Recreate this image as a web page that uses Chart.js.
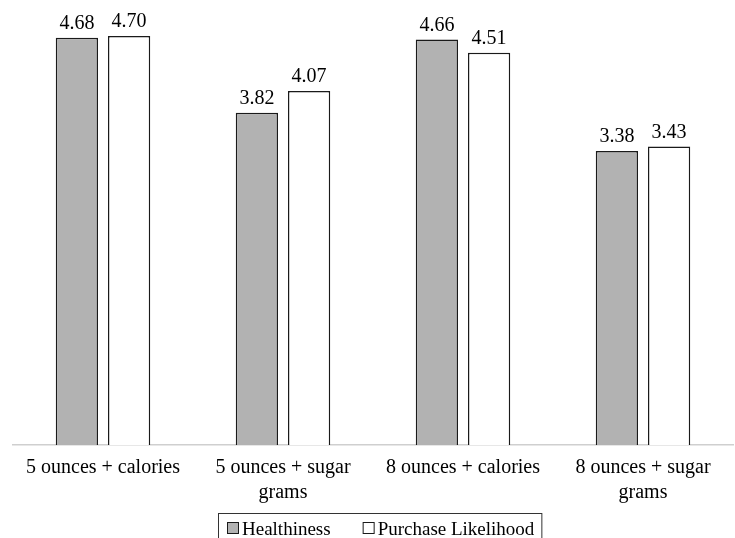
<!DOCTYPE html>
<html>
<head>
<meta charset="utf-8">
<script src="https://cdn.jsdelivr.net/npm/chart.js@4.4.0/dist/chart.umd.min.js"></script>
<style>
  html, body { margin: 0; padding: 0; background: #fff; }
  canvas { display: block; }
</style>
</head>
<body>
<canvas id="chart" width="735" height="538"></canvas>
<script>
const categories = [
    '5 ounces + calories',
    ['5 ounces + sugar', 'grams'],
    '8 ounces + calories',
    ['8 ounces + sugar', 'grams']
];
const healthiness = [4.68, 3.82, 4.66, 3.38];
const purchaseLikelihood = [4.70, 4.07, 4.51, 3.43];

const serif = "'Liberation Serif', 'Times New Roman', serif";

// value labels above each bar
const valueLabels = {
    id: 'valueLabels',
    afterDatasetsDraw(chart) {
        const ctx = chart.ctx;
        ctx.save();
        ctx.font = '20px ' + serif;
        ctx.fillStyle = '#000';
        ctx.textAlign = 'center';
        ctx.textBaseline = 'alphabetic';
        chart.data.datasets.forEach((ds, i) => {
            chart.getDatasetMeta(i).data.forEach((bar, j) => {
                ctx.fillText(ds.data[j].toFixed(2), bar.x, bar.y - 9);
            });
        });
        ctx.restore();
    }
};

// boxed legend at the bottom, drawn from the datasets
const boxLegend = {
    id: 'boxLegend',
    afterDraw(chart) {
        const ctx = chart.ctx;
        const sets = chart.data.datasets;
        ctx.save();
        ctx.font = '19px ' + serif;
        ctx.textBaseline = 'alphabetic';
        const box = 12, gap = 3, itemGap = 32;
        let total = 0;
        sets.forEach((ds, i) => {
            total += box + gap + ctx.measureText(ds.label).width + (i ? itemGap : 0);
        });
        const frameLeft = 218, pad = 9;
        let x = frameLeft + pad;
        const base = 535;
        ctx.strokeStyle = '#333';
        ctx.lineWidth = 1;
        ctx.strokeRect(frameLeft + 0.5, 513.5, total + pad * 2 - 2, 40);
        sets.forEach((ds) => {
            ctx.fillStyle = ds.backgroundColor;
            ctx.fillRect(x, base - 13, box, box);
            ctx.strokeStyle = '#1a1a1a';
            ctx.strokeRect(x + 0.5, base - 12.5, box - 1, box - 1);
            x += box + gap;
            ctx.fillStyle = '#000';
            ctx.fillText(ds.label, x, base);
            x += ctx.measureText(ds.label).width + itemGap;
        });
        ctx.restore();
    }
};

new Chart(document.getElementById('chart'), {
    type: 'bar',
    data: {
        labels: categories,
        datasets: [
            {
                label: 'Healthiness',
                data: healthiness,
                backgroundColor: '#b2b2b2',
                borderColor: '#1a1a1a',
                borderWidth: 1.5
            },
            {
                label: 'Purchase Likelihood',
                data: purchaseLikelihood,
                backgroundColor: '#ffffff',
                borderColor: '#1a1a1a',
                borderWidth: 1.5
            }
        ]
    },
    options: {
        responsive: false,
        animation: false,
        layout: { padding: { left: 13, right: 2, top: 10, bottom: 23 } },
        categoryPercentage: 0.58,
        barPercentage: 0.81,
        plugins: {
            tooltip: { enabled: false },
            legend: { display: false }
        },
        scales: {
            x: {
                grid: { display: false, drawTicks: false },
                border: { display: true, color: '#cfcfcf', width: 1.5 },
                ticks: {
                    font: { family: serif, size: 20, lineHeight: 1.25 },
                    color: '#000',
                    padding: 10,
                    maxRotation: 0
                }
            },
            y: {
                display: false,
                min: 0,
                max: 5
            }
        }
    },
    plugins: [valueLabels, boxLegend]
});
</script>
</body>
</html>
